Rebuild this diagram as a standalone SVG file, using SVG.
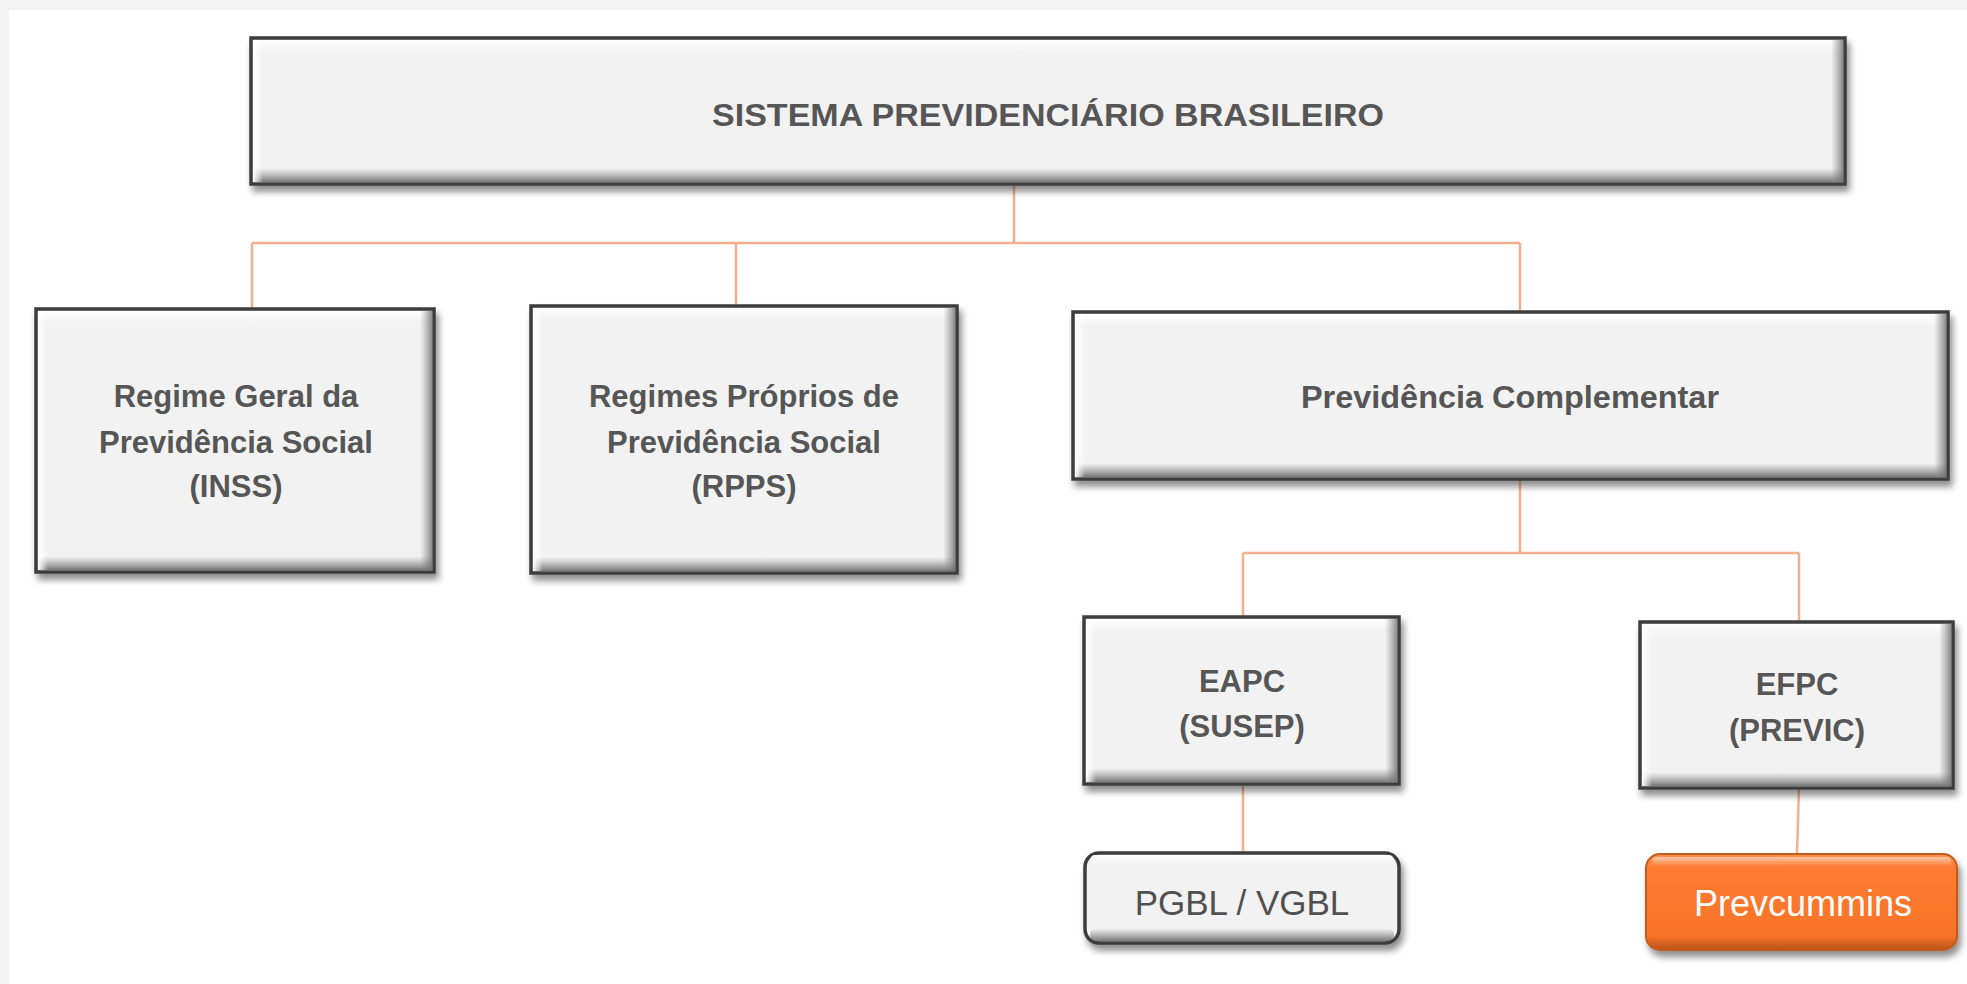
<svg xmlns="http://www.w3.org/2000/svg" width="1967" height="984" viewBox="0 0 1967 984">
<style>
.box{fill:#f2f2f2;stroke:#3c3c3c;stroke-width:3.5;filter:url(#shadow)}
.t{font-family:"Liberation Sans",Arial,sans-serif;font-weight:bold;font-size:31px;fill:#565656;text-anchor:middle}
.tn{font-family:"Liberation Sans",Arial,sans-serif;font-size:35px;fill:#505050;text-anchor:middle}
.tw{font-family:"Liberation Sans",Arial,sans-serif;font-size:36px;fill:#ffffff;text-anchor:middle}
.conn{fill:none;stroke:#f4b08e;stroke-width:2.5}
</style>
<defs>
<filter id="shadow" x="-5%" y="-10%" width="112%" height="130%">
<feGaussianBlur in="SourceAlpha" stdDeviation="3.5"/>
<feOffset dx="3" dy="6" result="b"/>
<feComponentTransfer><feFuncA type="linear" slope="0.45"/></feComponentTransfer>
<feMerge><feMergeNode/><feMergeNode in="SourceGraphic"/></feMerge>
</filter>
<linearGradient id="gTop" x1="0" y1="0" x2="0" y2="1"><stop offset="0" stop-color="#fff" stop-opacity="1"/><stop offset="1" stop-color="#fff" stop-opacity="0"/></linearGradient>
<linearGradient id="gBot" x1="0" y1="0" x2="0" y2="1"><stop offset="0" stop-color="#888" stop-opacity="0"/><stop offset="1" stop-color="#6a6a6a" stop-opacity="0.9"/></linearGradient>
<linearGradient id="gL" x1="0" y1="0" x2="1" y2="0"><stop offset="0" stop-color="#fff" stop-opacity="1"/><stop offset="1" stop-color="#fff" stop-opacity="0"/></linearGradient>
<linearGradient id="gR" x1="0" y1="0" x2="1" y2="0"><stop offset="0" stop-color="#888" stop-opacity="0"/><stop offset="1" stop-color="#707070" stop-opacity="0.8"/></linearGradient>
<linearGradient id="gOr" x1="0" y1="0" x2="0" y2="1"><stop offset="0" stop-color="#ff9150"/><stop offset="0.15" stop-color="#fd7b32"/><stop offset="0.85" stop-color="#f97428"/><stop offset="1" stop-color="#b9531c"/></linearGradient>
</defs>
<rect x="0" y="0" width="1967" height="984" fill="#f3f3f3"/>
<rect x="9" y="10" width="1958" height="974" fill="#ffffff"/>

<g id="connectors">
<path class="conn" d="M1014 184 V243 M252 243 H1520 M252 243 V309 M736 243 V306 M1520 243 V312"/>
<path class="conn" d="M1520 479 V553 M1243 553 H1799 M1243 553 V617 M1799 553 V622"/>
<path class="conn" d="M1243 784 V853 M1799 788 L1797 854"/>
</g>

<g id="n-sistema">
<rect class="box" x="251" y="38" width="1594" height="146"/>
<rect x="253" y="40" width="1590" height="12" fill="url(#gTop)"/>
<rect x="253" y="168" width="1590" height="14" fill="url(#gBot)"/>
<rect x="253" y="40" width="10" height="142" fill="url(#gL)"/>
<rect x="1831" y="40" width="12" height="142" fill="url(#gR)"/>
<text class="t" x="1048" y="126" font-size="34" textLength="672" lengthAdjust="spacingAndGlyphs">SISTEMA PREVIDENCIÁRIO BRASILEIRO</text>
</g>

<g id="n-rgps">
<rect class="box" x="36" y="309" width="398" height="263"/>
<rect x="38" y="311" width="394" height="12" fill="url(#gTop)"/>
<rect x="38" y="556" width="394" height="14" fill="url(#gBot)"/>
<rect x="38" y="311" width="10" height="259" fill="url(#gL)"/>
<rect x="420" y="311" width="12" height="259" fill="url(#gR)"/>
<text class="t" x="236" y="407">Regime Geral da</text>
<text class="t" x="236" y="453">Previdência Social</text>
<text class="t" x="236" y="497">(INSS)</text>
</g>

<g id="n-rpps">
<rect class="box" x="531" y="306" width="426" height="267"/>
<rect x="533" y="308" width="422" height="12" fill="url(#gTop)"/>
<rect x="533" y="557" width="422" height="14" fill="url(#gBot)"/>
<rect x="533" y="308" width="10" height="263" fill="url(#gL)"/>
<rect x="943" y="308" width="12" height="263" fill="url(#gR)"/>
<text class="t" x="744" y="407">Regimes Próprios de</text>
<text class="t" x="744" y="453">Previdência Social</text>
<text class="t" x="744" y="497">(RPPS)</text>
</g>

<g id="n-complementar">
<rect class="box" x="1073" y="312" width="875" height="167"/>
<rect x="1075" y="314" width="871" height="12" fill="url(#gTop)"/>
<rect x="1075" y="463" width="871" height="14" fill="url(#gBot)"/>
<rect x="1075" y="314" width="10" height="163" fill="url(#gL)"/>
<rect x="1934" y="314" width="12" height="163" fill="url(#gR)"/>
<text class="t" x="1510" y="408" textLength="418" lengthAdjust="spacingAndGlyphs">Previdência Complementar</text>
</g>

<g id="n-eapc">
<rect class="box" x="1084" y="617" width="315" height="167"/>
<rect x="1086" y="619" width="311" height="12" fill="url(#gTop)"/>
<rect x="1086" y="768" width="311" height="14" fill="url(#gBot)"/>
<rect x="1086" y="619" width="10" height="163" fill="url(#gL)"/>
<rect x="1385" y="619" width="12" height="163" fill="url(#gR)"/>
<text class="t" x="1242" y="692">EAPC</text>
<text class="t" x="1242" y="737">(SUSEP)</text>
</g>

<g id="n-efpc">
<rect class="box" x="1640" y="622" width="313" height="166"/>
<rect x="1642" y="624" width="309" height="12" fill="url(#gTop)"/>
<rect x="1642" y="772" width="309" height="14" fill="url(#gBot)"/>
<rect x="1642" y="624" width="10" height="162" fill="url(#gL)"/>
<rect x="1939" y="624" width="12" height="162" fill="url(#gR)"/>
<text class="t" x="1797" y="695">EFPC</text>
<text class="t" x="1797" y="741">(PREVIC)</text>
</g>

<g id="n-pgbl">
<rect class="box" x="1085" y="853" width="314" height="90" rx="14"/>
<rect x="1090" y="855" width="304" height="10" rx="5" fill="url(#gTop)"/>
<rect x="1090" y="928" width="304" height="13" rx="6" fill="url(#gBot)"/>
<text class="tn" x="1242" y="915">PGBL / VGBL</text>
</g>

<g id="n-prevcummins">
<rect x="1646" y="854" width="311" height="96" rx="14" fill="url(#gOr)" stroke="#c25c1f" stroke-width="2" filter="url(#shadow)"/>
<rect x="1652" y="857" width="299" height="9" rx="4" fill="url(#gTop)" opacity="0.5"/>
<text class="tw" x="1803" y="916">Prevcummins</text>
</g>
</svg>
